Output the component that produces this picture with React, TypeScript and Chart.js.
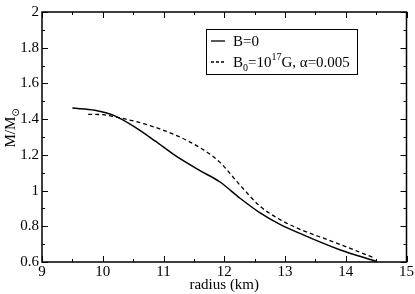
import React, { useEffect, useRef } from "react";
import { Chart, registerables } from "chart.js";

Chart.register(...registerables);

const solidR = [9.5, 9.87, 10.2, 10.53, 10.86, 11.19, 11.6, 11.93, 12.26, 12.59, 12.91, 13.3, 13.9, 14.5];
const solidM = [1.462, 1.45, 1.418, 1.355, 1.278, 1.197, 1.112, 1.048, 0.957, 0.875, 0.812, 0.752, 0.669, 0.604];
const dashR = [9.76, 10.0, 10.2, 10.69, 11.19, 11.65, 11.93, 12.26, 12.59, 12.91, 13.24, 13.74, 14.48];
const dashM = [1.427, 1.425, 1.413, 1.373, 1.312, 1.23, 1.158, 1.03, 0.912, 0.839, 0.784, 0.72, 0.622];

const xTicks = [9, 10, 11, 12, 13, 14, 15];
const yTicks = [0.6, 0.8, 1.0, 1.2, 1.4, 1.6, 1.8, 2.0];

const FONT = "Liberation Serif";

const decorPlugin = {
  id: "decor",
  afterDraw(chart: any) {
    const ctx = chart.ctx;
    const { left, right, top, bottom } = chart.chartArea;
    const xs = chart.scales.x;
    const ys = chart.scales.y;
    ctx.save();
    ctx.strokeStyle = "#000";
    ctx.lineWidth = 1.5;
    ctx.strokeRect(left, top, right - left, bottom - top);
    ctx.lineWidth = 1;
    for (let v = xs.min; v <= xs.max + 1e-9; v += 0.5) {
      const p = Math.round(xs.getPixelForValue(v)) + 0.5;
      const major = Math.abs(v - Math.round(v)) < 1e-6;
      const len = major ? 6 : 3;
      ctx.beginPath();
      ctx.moveTo(p, bottom);
      ctx.lineTo(p, bottom - len);
      ctx.moveTo(p, top);
      ctx.lineTo(p, top + len);
      ctx.stroke();
    }
    for (let i = 0; i <= Math.round((ys.max - ys.min) / 0.1); i++) {
      const v = ys.min + i * 0.1;
      const p = Math.round(ys.getPixelForValue(v)) + 0.5;
      const major = i % 2 === 0;
      const len = major ? 6 : 3;
      ctx.beginPath();
      ctx.moveTo(left, p);
      ctx.lineTo(left + len, p);
      ctx.moveTo(right, p);
      ctx.lineTo(right - len, p);
      ctx.stroke();
    }
    ctx.fillStyle = "#000";
    ctx.font = `15px "${FONT}"`;
    ctx.textAlign = "center";
    ctx.textBaseline = "middle";
    ctx.fillText("radius (km)", (left + right) / 2, 285);
    ctx.save();
    ctx.translate(15, 128);
    ctx.rotate(-Math.PI / 2);
    ctx.textAlign = "left";
    ctx.textBaseline = "alphabetic";
    ctx.font = `15px "${FONT}"`;
    const main = "M/M";
    const w1 = ctx.measureText(main).width;
    ctx.font = `10px "DejaVu Sans"`;
    const sub = "\u2299";
    const w2 = ctx.measureText(sub).width;
    const startX = -(w1 + w2) / 2;
    ctx.font = `15px "${FONT}"`;
    ctx.fillText(main, startX, 0);
    ctx.font = `10px "DejaVu Sans"`;
    ctx.fillText(sub, startX + w1, 4);
    ctx.restore();

    const bx = left + 164, by = top + 17, bw = 151, bh = 45;
    ctx.lineWidth = 1;
    ctx.strokeRect(Math.round(bx) + 0.5, Math.round(by) + 0.5, bw, bh);
    const lx0 = bx + 5, lx1 = bx + 19;
    const r1 = by + 12, r2 = by + 33;
    ctx.lineWidth = 1.3;
    ctx.setLineDash([]);
    ctx.beginPath();
    ctx.moveTo(lx0, r1);
    ctx.lineTo(lx1, r1);
    ctx.stroke();
    ctx.setLineDash([3, 2]);
    ctx.beginPath();
    ctx.moveTo(lx0, r2);
    ctx.lineTo(lx1, r2);
    ctx.stroke();
    ctx.setLineDash([]);
    ctx.textAlign = "left";
    ctx.textBaseline = "alphabetic";
    const tx = bx + 27;
    ctx.font = `15px "${FONT}"`;
    ctx.fillText("B=0", tx, r1 + 5);
    let cx = tx;
    const base2 = r2 + 5;
    const seg = (t: string, size: number, dy: number) => {
      ctx.font = `${size}px "${FONT}"`;
      ctx.fillText(t, cx, base2 + dy);
      cx += ctx.measureText(t).width;
    };
    seg("B", 15, 0);
    seg("0", 10, 4);
    seg("=10", 15, 0);
    seg("17", 10, -7);
    seg("G, \u03b1=0.005", 15, 0);
    ctx.restore();
  },
};

export default function App() {
  const ref = useRef<HTMLCanvasElement>(null);
  useEffect(() => {
    document.body.style.margin = "0";
    let chart: any = null;
    let cancelled = false;
    const make = () => {
      if (cancelled || !ref.current) return;
      chart = new Chart(ref.current, {
        type: "line",
        data: {
          datasets: [
            {
              label: "B=0",
              data: solidR.map((r, i) => ({ x: r, y: solidM[i] })),
              borderColor: "#000",
              borderWidth: 1.5,
              pointRadius: 0,
              cubicInterpolationMode: "monotone",
              fill: false,
            },
            {
              label: "B0=10^17G, α=0.005",
              data: dashR.map((r, i) => ({ x: r, y: dashM[i] })),
              borderColor: "#000",
              borderWidth: 1.3,
              borderDash: [4, 3],
              pointRadius: 0,
              cubicInterpolationMode: "monotone",
              fill: false,
            },
          ],
        },
        options: {
          animation: false,
          responsive: false,
          maintainAspectRatio: false,
          layout: { padding: { top: 6, right: 8, left: 0, bottom: 0 } },
          plugins: { legend: { display: false }, tooltip: { enabled: false } },
          scales: {
            x: {
              type: "linear",
              min: 9,
              max: 15,
              afterBuildTicks: (s: any) => {
                s.ticks = xTicks.map((v) => ({ value: v }));
              },
              afterFit: (s: any) => {
                s.height = 32;
              },
              grid: { display: false, drawTicks: false },
              border: { display: false },
              ticks: {
                color: "#000",
                font: { family: FONT, size: 15 },
                padding: 1,
                maxRotation: 0,
              },
            },
            y: {
              type: "linear",
              min: 0.6,
              max: 2,
              afterBuildTicks: (s: any) => {
                s.ticks = yTicks.map((v) => ({ value: v }));
              },
              afterFit: (s: any) => {
                s.width = 42;
              },
              grid: { display: false, drawTicks: false },
              border: { display: false },
              ticks: {
                color: "#000",
                font: { family: FONT, size: 15 },
                padding: 3,
                callback: (v: any) => String(Math.round(Number(v) * 10) / 10),
              },
            },
          },
        },
        plugins: [decorPlugin],
      });
    };
    const fonts: any = (document as any).fonts;
    if (fonts && fonts.load) {
      Promise.all([
        fonts.load(`15px "${FONT}"`),
        fonts.load(`10px "DejaVu Sans"`),
      ]).then(make, make);
    } else {
      make();
    }
    return () => {
      cancelled = true;
      if (chart) chart.destroy();
    };
  }, []);
  return (
    <div style={{ width: 415, height: 294 }}>
      <canvas ref={ref} width={415} height={294} style={{ display: "block" }} />
    </div>
  );
}
